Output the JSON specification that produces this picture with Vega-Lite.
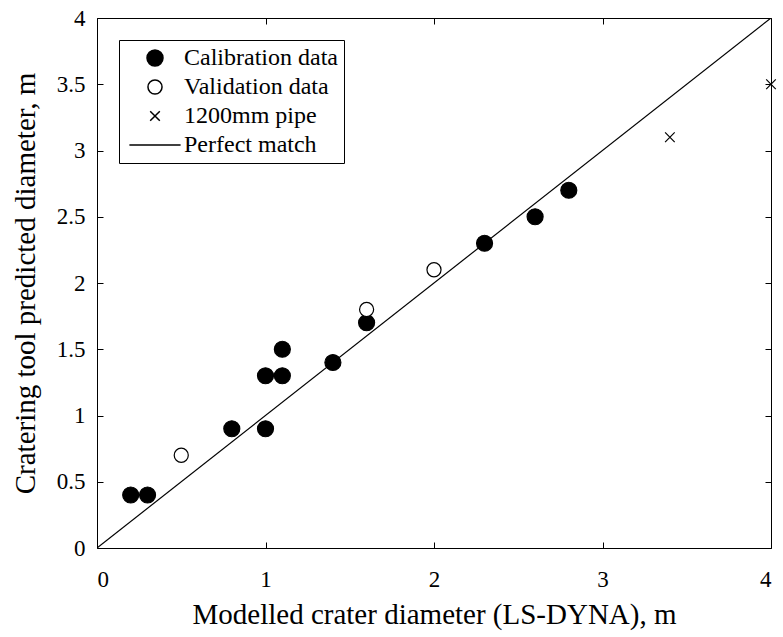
{
  "$schema": "https://vega.github.io/schema/vega-lite/v6.json",
  "width": 674,
  "height": 530,
  "autosize": {"type": "none"},
  "padding": {"left": 97, "top": 18, "right": 12, "bottom": 89},
  "background": "white",
  "config": {
    "view": {"stroke": "black", "strokeWidth": 1},
    "axis": {
      "grid": false,
      "domainColor": "black",
      "tickColor": "black",
      "labelColor": "black",
      "titleColor": "black",
      "labelFontSize": 23,
      "titleFontSize": 29,
      "titleFontWeight": "normal",
      "tickSize": -6
    }
  },
  "datasets": {
    "pts": [
      {"x": 0.2, "y": 0.4, "series": "Calibration data"},
      {"x": 0.3, "y": 0.4, "series": "Calibration data"},
      {"x": 0.8, "y": 0.9, "series": "Calibration data"},
      {"x": 1.0, "y": 0.9, "series": "Calibration data"},
      {"x": 1.0, "y": 1.3, "series": "Calibration data"},
      {"x": 1.1, "y": 1.3, "series": "Calibration data"},
      {"x": 1.1, "y": 1.5, "series": "Calibration data"},
      {"x": 1.4, "y": 1.4, "series": "Calibration data"},
      {"x": 1.6, "y": 1.7, "series": "Calibration data"},
      {"x": 2.3, "y": 2.3, "series": "Calibration data"},
      {"x": 2.6, "y": 2.5, "series": "Calibration data"},
      {"x": 2.8, "y": 2.7, "series": "Calibration data"},
      {"x": 0.5, "y": 0.7, "series": "Validation data"},
      {"x": 1.6, "y": 1.8, "series": "Validation data"},
      {"x": 2.0, "y": 2.1, "series": "Validation data"},
      {"x": 3.4, "y": 3.1, "series": "1200mm pipe"},
      {"x": 4.0, "y": 3.5, "series": "1200mm pipe"}
    ],
    "line": [
      {"x": 0, "y": 0},
      {"x": 4, "y": 4}
    ]
  },
  "layer": [
    {
      "data": {"name": "line"},
      "mark": {"type": "line", "color": "black", "strokeWidth": 1.2, "clip": true},
      "encoding": {
        "x": {"field": "x", "type": "quantitative", "scale": {"domain": [0, 4], "nice": false, "zero": false},
          "axis": {"orient": "top", "labels": false, "title": null, "values": [0, 1, 2, 3, 4], "domain": false}},
        "y": {"field": "y", "type": "quantitative", "scale": {"domain": [0, 4], "nice": false, "zero": false},
          "axis": {"orient": "right", "labels": false, "title": null, "values": [0, 0.5, 1, 1.5, 2, 2.5, 3, 3.5, 4], "domain": false}}
      }
    },
    {
      "data": {"name": "pts"},
      "mark": {"type": "point", "stroke": "black", "strokeWidth": 1.2, "opacity": 1, "size": 256},
      "encoding": {
        "x": {"field": "x", "type": "quantitative",
          "axis": {"orient": "bottom", "title": "Modelled crater diameter (LS-DYNA), m", "values": [0, 1, 2, 3, 4], "format": "~g", "labelPadding": 26, "titlePadding": 9, "domain": false,
            "labelFont": "Liberation Serif", "titleFont": "Liberation Serif"}},
        "y": {"field": "y", "type": "quantitative",
          "axis": {"orient": "left", "title": "Cratering tool predicted diameter, m", "values": [0, 0.5, 1, 1.5, 2, 2.5, 3, 3.5, 4], "format": "~g", "labelPadding": 18, "titlePadding": 16, "domain": false,
            "labelFont": "Liberation Serif", "titleFont": "Liberation Serif"}},
        "shape": {"field": "series", "type": "nominal",
          "scale": {"domain": ["Calibration data", "Validation data", "1200mm pipe", "Perfect match"],
            "range": ["circle", "M-0.88,0A0.88,0.88 0 1,0 0.88,0A0.88,0.88 0 1,0 -0.88,0Z", "M-0.6,-0.6L0.6,0.6M-0.6,0.6L0.6,-0.6", "M-3.2,0H3.2"]},
          "legend": {
            "title": null,
            "orient": "none",
            "legendX": 22,
            "legendY": 22,
            "strokeColor": "black",
            "fillColor": "white",
            "padding": 6,
            "symbolOffset": 18,
            "labelOffset": 17,
            "labelFontSize": 24,
            "labelFont": "Liberation Serif",
            "labelColor": "black",
            "symbolSize": 256,
            "rowPadding": 5,
            "encode": {
              "symbols": {"update": {"stroke": {"value": "black"}, "strokeWidth": {"value": 1.2}, "opacity": {"value": 1}}}
            }
          }},
        "fill": {"field": "series", "type": "nominal",
          "scale": {"domain": ["Calibration data", "Validation data", "1200mm pipe", "Perfect match"],
            "range": ["black", "white", "transparent", "transparent"]}}
      }
    }
  ],
  "resolve": {"axis": {"x": "independent", "y": "independent"}}
}
